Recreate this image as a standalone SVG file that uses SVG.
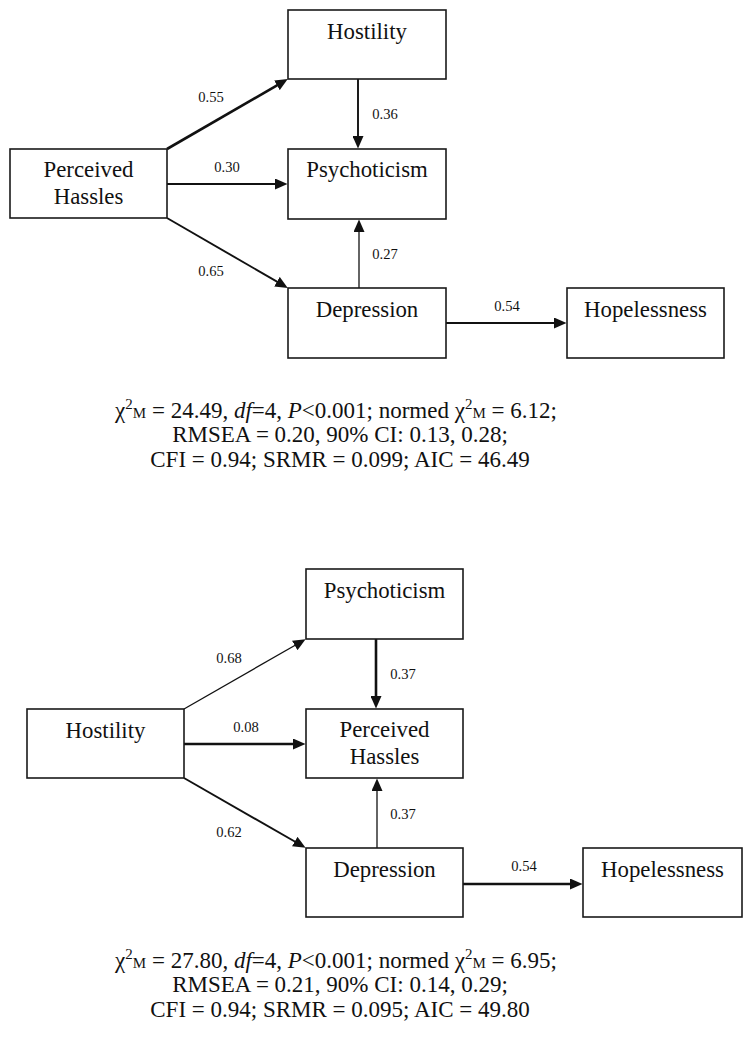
<svg xmlns="http://www.w3.org/2000/svg" width="750" height="1047" viewBox="0 0 750 1047">
<style>
.box{fill:#fff;stroke:#1a1a1a;stroke-width:1.6}
.nt{font-family:"Liberation Serif","Times New Roman",serif;font-size:22.8px;fill:#111;text-anchor:middle}
.lb{font-family:"Liberation Serif","Times New Roman",serif;font-size:14.6px;fill:#111;text-anchor:middle}
.st{font-family:"Liberation Serif","Times New Roman",serif;font-size:23px;fill:#111;text-anchor:middle}
.sm{font-size:15px}
.e{fill:none;stroke:#111;marker-end:url(#ah)}
.w1{stroke-width:1.3}
.w2{stroke-width:1.9}
.w3{stroke-width:2.6}
</style>
<defs>
<marker id="ah" markerUnits="userSpaceOnUse" markerWidth="13" markerHeight="11" refX="6.5" refY="5.5" orient="auto">
<path d="M0,0 L12.5,5.5 L0,11 z" fill="#111"/>
</marker>
</defs>
<rect width="750" height="1047" fill="#fff"/>

<g id="connectors">
<line class="e w3" x1="167" y1="149" x2="282.6" y2="82.1"/>
<line class="e w2" x1="167" y1="184" x2="281.5" y2="184"/>
<line class="e w2" x1="167" y1="218" x2="282.6" y2="284.9"/>
<line class="e w2" x1="358" y1="79" x2="358" y2="142.5"/>
<line class="e w1" x1="359" y1="288" x2="359" y2="225.5"/>
<line class="e w2" x1="446" y1="323" x2="560.5" y2="323"/>

<line class="e w1" x1="184" y1="709" x2="300.4" y2="642.2"/>
<line class="e w3" x1="184" y1="744" x2="299.5" y2="744"/>
<line class="e w2" x1="184" y1="778" x2="300.4" y2="844.8"/>
<line class="e w3" x1="376" y1="639" x2="376" y2="702.5"/>
<line class="e w1" x1="377" y1="848" x2="377" y2="784.5"/>
<line class="e w3" x1="463" y1="884" x2="576.5" y2="884"/>
</g>

<g id="edge-labels">
<text class="lb" x="211" y="102">0.55</text>
<text class="lb" x="227" y="172">0.30</text>
<text class="lb" x="211" y="276">0.65</text>
<text class="lb" x="385" y="119">0.36</text>
<text class="lb" x="385" y="259">0.27</text>
<text class="lb" x="507" y="311">0.54</text>

<text class="lb" x="229" y="663">0.68</text>
<text class="lb" x="246" y="732">0.08</text>
<text class="lb" x="229" y="837">0.62</text>
<text class="lb" x="403" y="679">0.37</text>
<text class="lb" x="403" y="819">0.37</text>
<text class="lb" x="524" y="871">0.54</text>
</g>

<g id="top-hostility"><rect class="box" x="288" y="10" width="158" height="69"/><text class="nt" x="367" y="39">Hostility</text></g>
<g id="top-perceived-hassles"><rect class="box" x="10" y="149" width="157" height="69"/><text class="nt" x="88.5" y="177">Perceived</text><text class="nt" x="88.5" y="204">Hassles</text></g>
<g id="top-psychoticism"><rect class="box" x="288" y="149" width="158" height="70"/><text class="nt" x="367" y="177">Psychoticism</text></g>
<g id="top-depression"><rect class="box" x="288" y="288" width="158" height="70"/><text class="nt" x="367" y="317">Depression</text></g>
<g id="top-hopelessness"><rect class="box" x="567" y="288" width="157" height="70"/><text class="nt" x="645.5" y="317">Hopelessness</text></g>

<g id="bottom-psychoticism"><rect class="box" x="306" y="569" width="157" height="70"/><text class="nt" x="384.5" y="598">Psychoticism</text></g>
<g id="bottom-hostility"><rect class="box" x="27" y="709" width="157" height="69"/><text class="nt" x="105.5" y="738">Hostility</text></g>
<g id="bottom-perceived-hassles"><rect class="box" x="306" y="709" width="157" height="69"/><text class="nt" x="384.5" y="737">Perceived</text><text class="nt" x="384.5" y="764">Hassles</text></g>
<g id="bottom-depression"><rect class="box" x="306" y="848" width="157" height="69"/><text class="nt" x="384.5" y="877">Depression</text></g>
<g id="bottom-hopelessness"><rect class="box" x="583" y="848" width="159" height="69"/><text class="nt" x="662.5" y="877">Hopelessness</text></g>

<g id="stats-top">
<text class="st" x="336" y="418">χ<tspan class="sm" dy="-9">2</tspan><tspan class="sm" dy="9">M</tspan> = 24.49, <tspan font-style="italic">df</tspan>=4, <tspan font-style="italic">P</tspan>&lt;0.001; normed χ<tspan class="sm" dy="-9">2</tspan><tspan class="sm" dy="9">M</tspan> = 6.12;</text>
<text class="st" x="340" y="442">RMSEA = 0.20, 90% CI: 0.13, 0.28;</text>
<text class="st" x="340" y="467">CFI = 0.94; SRMR = 0.099; AIC = 46.49</text>
</g>
<g id="stats-bottom">
<text class="st" x="336" y="968">χ<tspan class="sm" dy="-9">2</tspan><tspan class="sm" dy="9">M</tspan> = 27.80, <tspan font-style="italic">df</tspan>=4, <tspan font-style="italic">P</tspan>&lt;0.001; normed χ<tspan class="sm" dy="-9">2</tspan><tspan class="sm" dy="9">M</tspan> = 6.95;</text>
<text class="st" x="340" y="992">RMSEA = 0.21, 90% CI: 0.14, 0.29;</text>
<text class="st" x="340" y="1017">CFI = 0.94; SRMR = 0.095; AIC = 49.80</text>
</g>
</svg>
